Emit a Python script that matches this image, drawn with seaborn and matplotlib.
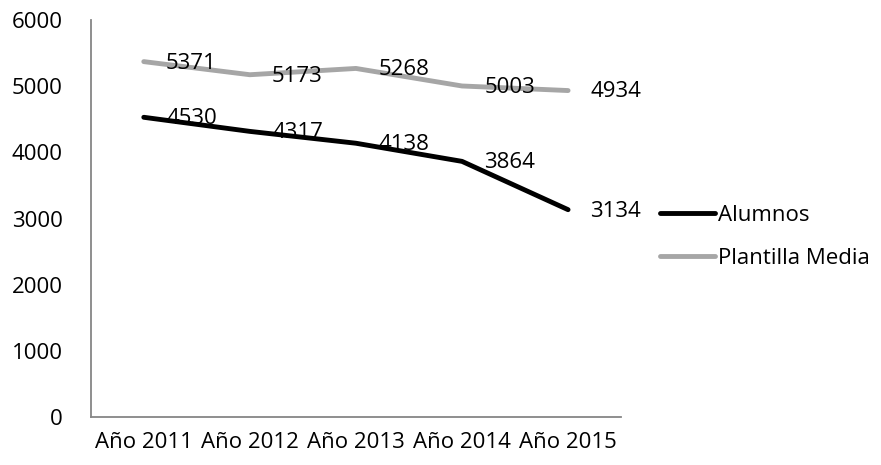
import matplotlib
matplotlib.use('Agg')
import matplotlib.pyplot as plt
import pandas as pd
import seaborn as sns

# Chart data
years = ['Año 2011', 'Año 2012', 'Año 2013', 'Año 2014', 'Año 2015']
alumnos = [4530, 4317, 4138, 3864, 3134]
plantilla_media = [5371, 5173, 5268, 5003, 4934]
series_names = ['Alumnos', 'Plantilla Media']
series_colors = ['#000000', '#A6A6A6']

# Build a long-format table for seaborn
df = pd.DataFrame({
    'Año': years * 2,
    'Valor': alumnos + plantilla_media,
    'Serie': [series_names[0]] * len(years) + [series_names[1]] * len(years),
})

sns.set_style('white')
plt.rcParams['font.family'] = ['Open Sans', 'DejaVu Sans']
plt.rcParams['text.color'] = 'black'
fs = 16

fig = plt.figure(figsize=(8.81, 4.65), dpi=100)
ax = fig.add_axes([0.103, 0.103, 0.602, 0.854])

sns.lineplot(data=df, x='Año', y='Valor', hue='Serie', hue_order=series_names,
             palette=series_colors, linewidth=3.5, sort=False, ax=ax,
             legend=False, solid_capstyle='round')

# Data labels to the right of each point
for vals in [alumnos, plantilla_media]:
    for i, v in enumerate(vals):
        ax.annotate(str(v), (i, v), xytext=(16, -1), textcoords='offset points',
                    ha='left', va='center', fontsize=fs, color='black')

ax.set_xlim(-0.5, len(years) - 0.5)
ax.set_ylim(0, 6000)
ax.set_yticks(range(0, 6001, 1000))
ax.set_xlabel('')
ax.set_ylabel('')
ax.tick_params(axis='both', length=0, labelsize=fs, colors='black')
ax.tick_params(axis='y', pad=20)
ax.tick_params(axis='x', pad=11)

for side in ['top', 'right']:
    ax.spines[side].set_visible(False)
for side in ['left', 'bottom']:
    ax.spines[side].set_color('#868686')
    ax.spines[side].set_linewidth(1.3)

# Legend on the right
handles = [plt.Line2D([], [], color=c, linewidth=3.5, solid_capstyle='round') for c in series_colors]
fig.legend(handles, series_names, loc='center left', bbox_to_anchor=(0.749, 0.491),
           frameon=False, fontsize=fs, handlelength=2.5, handletextpad=0.1,
           labelspacing=1.0, borderpad=0, borderaxespad=0, labelcolor='black')

fig.savefig('out.png', dpi=100)
plt.close()
